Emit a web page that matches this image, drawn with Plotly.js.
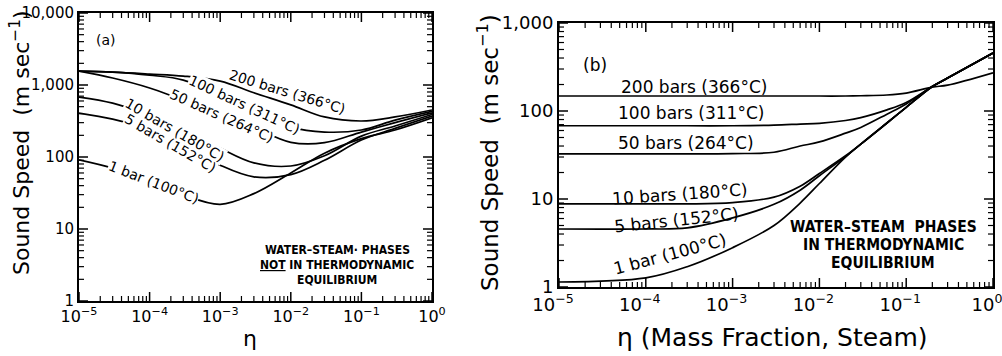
<!DOCTYPE html>
<html>
<head>
<meta charset="utf-8">
<script src="https://cdn.plot.ly/plotly-3.0.1.min.js"></script>
<style>
  html, body { margin: 0; padding: 0; background: #fff; }
  #chart { width: 1002px; height: 356px; }
</style>
</head>
<body>
<div id="chart"></div>
<script>
// ---- (a) phases not in thermodynamic equilibrium ----
const etaA = [1e-5, 3e-5, 1e-4, 3e-4, 1e-3, 3e-3, 1e-2, 3e-2, 1e-1, 3e-1, 1];
const bar200A = [1560, 1510, 1420, 1330, 1130, 780, 530, 360, 316, 360, 450];
const bar100A = [1560, 1510, 1370, 1170, 700, 435, 260, 222, 237, 325, 430];
const bar50A  = [1560, 1250, 910, 620, 420, 260, 160, 158, 222, 300, 410];
const bar10A  = [680, 560, 380, 250, 133, 83, 75, 104, 195, 270, 390];
const bar5A   = [408, 335, 237, 147, 77, 53, 57, 90, 172, 250, 370];
const bar1A   = [91, 70, 48, 30, 22, 31, 60, 113, 180, 237, 350];

// ---- (b) phases in thermodynamic equilibrium ----
const etaB = [1e-5, 1e-4, 3e-4, 1e-3, 3e-3, 6e-3, 1e-2, 2e-2, 3e-2, 6e-2, 1e-1, 2e-1, 3e-1, 1];
const bar200B = [148, 148, 148, 148, 148, 148, 148, 148, 149, 152, 160, 187, 197, 272];
const bar100B = [68, 68, 68, 68, 69, 71, 72.5, 78, 84, 103, 125, 190, 237, 457];
const bar50B  = [32.5, 32.5, 32.5, 32.8, 34, 40, 44.5, 56, 65, 92, 120, 190, 237, 457];
const bar10B  = [8.8, 8.8, 8.8, 9.1, 10.5, 14, 19.5, 31, 42, 73, 110, 190, 237, 457];
const bar5B   = [4.56, 4.56, 4.7, 6.1, 8.7, 12.6, 18.4, 30.3, 42, 73, 110, 190, 237, 457];
const bar1B   = [1.14, 1.27, 1.7, 2.8, 5.0, 9, 15, 30, 42, 73, 110, 190, 237, 457];

// ---- tick labels ----
const etaTicks = [1e-5, 1e-4, 1e-3, 1e-2, 1e-1, 1];
const etaTickText = ['10<sup>−5</sup>', '10<sup>−4</sup>', '10<sup>−3</sup>', '10<sup>−2</sup>', '10<sup>−1</sup>', '10<sup>0</sup>'];
const speedTicksA = [1, 10, 100, 1000, 10000];
const speedTickTextA = ['1', '10', '100', '1,000', '10,000'];
const speedTicksB = [1, 10, 100, 1000];
const speedTickTextB = ['1', '10', '100', '1,000'];
const minorDigits = [2, 3, 4, 5, 6, 7, 8, 9];

// ---- curve labels (positions in log10 units of the axes) ----
const labelsA = [
  { text: '200 bars (366°C)', x: -2.04, y: 2.90, angle: 17, gap: false },
  { text: '100 bars (311°C)', x: -2.65, y: 2.72, angle: 25, gap: true },
  { text: '50 bars (264°C)',  x: -2.97, y: 2.57, angle: 24, gap: true },
  { text: '10 bars (180°C)',  x: -3.64, y: 2.375, angle: 30, gap: true },
  { text: '5 bars (152°C)',   x: -3.71, y: 2.19, angle: 30, gap: true },
  { text: '1 bar (100°C)',    x: -3.95, y: 1.65, angle: 21, gap: true }
];
const labelsB = [
  { text: '200 bars (366°C)', x: -3.445, y: 2.27, angle: 0 },
  { text: '100 bars (311°C)', x: -3.48,  y: 1.98, angle: 0 },
  { text: '50 bars (264°C)',  x: -3.54,  y: 1.636, angle: 0 },
  { text: '10 bars (180°C)',  x: -3.61,  y: 1.06, angle: -4 },
  { text: '5 bars (152°C)',   x: -3.65,  y: 0.76, angle: -6 },
  { text: '1 bar (100°C)',    x: -3.72,  y: 0.37, angle: -15 }
];
const noteA = ['WATER–STEAM· PHASES', '<u>NOT</u> IN THERMODYNAMIC', 'EQUILIBRIUM'];
const noteB = ['WATER–STEAM  PHASES', 'IN THERMODYNAMIC', 'EQUILIBRIUM'];

const FONT = 'DejaVu Sans, Liberation Sans, sans-serif';
const NOTE_FONT = 'DejaVu Sans Condensed, Liberation Sans Narrow, sans-serif';
const W = 1002, H = 356;

// 2..9 times every decade from 10^lo up to 10^(hi-1)
function minorVals(lo, hi) {
  const out = [];
  for (let p = lo; p < hi; p++) minorDigits.forEach(d => out.push(d * Math.pow(10, p)));
  return out;
}

function logAxis(opts) {
  return {
    type: 'log',
    domain: opts.domain,
    range: opts.range,
    anchor: opts.anchor,
    tickmode: 'array',
    tickvals: opts.tickvals,
    ticktext: opts.ticktext,
    ticks: '',
    ticklabeloverflow: 'allow',
    ticklabelshift: opts.shift || 0,
    showline: true,
    linewidth: 2,
    linecolor: '#000',
    mirror: true,
    showgrid: false,
    zeroline: false,
    tickfont: { family: FONT, size: opts.fontSize, color: '#000' }
  };
}

// inward tick marks on all four sides of a log-log frame (shape positions in data values)
function frameTicks(xa, ya, xVals, yVals, len, width) {
  const s = [];
  const line = { color: '#000', width: width };
  xVals.forEach(v => {
    s.push({ type: 'line', xref: xa, yref: ya + ' domain', x0: v, x1: v,
      ysizemode: 'pixel', yanchor: 0, y0: 0, y1: len, line: line, layer: 'above' });
    s.push({ type: 'line', xref: xa, yref: ya + ' domain', x0: v, x1: v,
      ysizemode: 'pixel', yanchor: 1, y0: 0, y1: -len, line: line, layer: 'above' });
  });
  yVals.forEach(v => {
    s.push({ type: 'line', xref: xa + ' domain', yref: ya, y0: v, y1: v,
      xsizemode: 'pixel', xanchor: 0, x0: 0, x1: len, line: line, layer: 'above' });
    s.push({ type: 'line', xref: xa + ' domain', yref: ya, y0: v, y1: v,
      xsizemode: 'pixel', xanchor: 1, x0: 0, x1: -len, line: line, layer: 'above' });
  });
  return s;
}

function curve(x, y, xa, ya, name) {
  return {
    x: x, y: y, xaxis: xa, yaxis: ya, name: name,
    type: 'scatter', mode: 'lines',
    line: { color: '#000', width: 1.7, shape: 'spline', smoothing: 1 },
    hoverinfo: 'skip', showlegend: false
  };
}

const data = [
  curve(etaA, bar200A, 'x', 'y', '200 bars'),
  curve(etaA, bar100A, 'x', 'y', '100 bars'),
  curve(etaA, bar50A,  'x', 'y', '50 bars'),
  curve(etaA, bar10A,  'x', 'y', '10 bars'),
  curve(etaA, bar5A,   'x', 'y', '5 bars'),
  curve(etaA, bar1A,   'x', 'y', '1 bar'),
  curve(etaB, bar200B, 'x2', 'y2', '200 bars'),
  curve(etaB, bar100B, 'x2', 'y2', '100 bars'),
  curve(etaB, bar50B,  'x2', 'y2', '50 bars'),
  curve(etaB, bar10B,  'x2', 'y2', '10 bars'),
  curve(etaB, bar5B,   'x2', 'y2', '5 bars'),
  curve(etaB, bar1B,   'x2', 'y2', '1 bar')
];

const shapes = [].concat(
  frameTicks('x', 'y', etaTicks, speedTicksA, 9, 1.5),
  frameTicks('x', 'y', minorVals(-5, 0), minorVals(0, 4), 5, 1.2),
  frameTicks('x2', 'y2', etaTicks, speedTicksB, 9, 1.5),
  frameTicks('x2', 'y2', minorVals(-5, 0), minorVals(0, 3), 5, 1.2)
);

const annotations = [];

// white gaps under labels that sit on their curves, then the label texts
labelsA.filter(l => l.gap).forEach(l => annotations.push({
  xref: 'x', yref: 'y', x: l.x, y: l.y, text: l.text, textangle: l.angle,
  showarrow: false, bgcolor: '#fff', borderpad: 0,
  font: { family: FONT, size: 14, color: '#fff' }
}));
labelsA.forEach(l => annotations.push({
  xref: 'x', yref: 'y', x: l.x, y: l.y, text: l.text, textangle: l.angle,
  showarrow: false, font: { family: FONT, size: 14, color: '#000' }
}));
labelsB.forEach(l => annotations.push({
  xref: 'x2', yref: 'y2', x: l.x, y: l.y, text: l.text, textangle: l.angle,
  showarrow: false, font: { family: FONT, size: 17, color: '#000' }
}));

// panel tags
annotations.push({ xref: 'x', yref: 'y', x: -4.62, y: 3.625, text: '(a)', showarrow: false,
  font: { family: FONT, size: 14, color: '#000' } });
annotations.push({ xref: 'x2', yref: 'y2', x: -4.585, y: 2.52, text: '(b)', showarrow: false,
  font: { family: FONT, size: 17, color: '#000' } });

// notes
noteA.forEach((t, i) => annotations.push({
  xref: 'paper', yref: 'paper', x: 337 / W, y: 1 - (250 + 15 * i) / H, text: t,
  xanchor: 'center', yanchor: 'middle', showarrow: false,
  font: { family: NOTE_FONT, size: 12, color: '#000', weight: 'bold' }
}));
noteB.forEach((t, i) => annotations.push({
  xref: 'paper', yref: 'paper', x: 883 / W, y: 1 - (227 + 18 * i) / H, text: t,
  xanchor: 'center', yanchor: 'middle', showarrow: false,
  font: { family: NOTE_FONT, size: 15.5, color: '#000', weight: 'bold' }
}));

// axis titles
annotations.push({ xref: 'paper', yref: 'paper', x: 20 / W, y: 1 - 143 / H,
  text: 'Sound Speed  (m sec<sup>−1</sup>)', textangle: -90, showarrow: false,
  xanchor: 'center', yanchor: 'middle', font: { family: FONT, size: 22, color: '#000' } });
annotations.push({ xref: 'paper', yref: 'paper', x: 488 / W, y: 1 - 153 / H,
  text: 'Sound Speed  (m sec<sup>−1</sup>)', textangle: -90, showarrow: false,
  xanchor: 'center', yanchor: 'middle', font: { family: FONT, size: 23, color: '#000' } });
annotations.push({ xref: 'paper', yref: 'paper', x: 250 / W, y: 1 - 338 / H,
  text: 'η', showarrow: false, xanchor: 'center', yanchor: 'middle',
  font: { family: FONT, size: 22, color: '#000' } });
annotations.push({ xref: 'paper', yref: 'paper', x: 772 / W, y: 1 - 337 / H,
  text: 'η (Mass Fraction, Steam)', showarrow: false, xanchor: 'center', yanchor: 'middle',
  font: { family: FONT, size: 25, color: '#000' } });

const layout = {
  width: W, height: H,
  margin: { l: 0, r: 0, t: 0, b: 0 },
  paper_bgcolor: '#fff', plot_bgcolor: '#fff',
  showlegend: false,
  xaxis: logAxis({ domain: [79 / W, 432 / W], range: [-5, 0], anchor: 'y',
    tickvals: etaTicks, ticktext: etaTickText, fontSize: 16 }),
  yaxis: logAxis({ domain: [1 - 301 / H, 1 - 13 / H], range: [0, 4], anchor: 'x',
    tickvals: speedTicksA, ticktext: speedTickTextA, fontSize: 15 }),
  xaxis2: logAxis({ domain: [559 / W, 993 / W], range: [-5, 0], anchor: 'y2',
    tickvals: etaTicks, ticktext: etaTickText, fontSize: 18, shift: -6 }),
  yaxis2: logAxis({ domain: [1 - 287 / H, 1 - 23 / H], range: [0, 3], anchor: 'x2',
    tickvals: speedTicksB, ticktext: speedTickTextB, fontSize: 18 }),
  shapes: shapes,
  annotations: annotations
};

Plotly.newPlot('chart', data, layout, { staticPlot: true, displayModeBar: false });
</script>
</body>
</html>
